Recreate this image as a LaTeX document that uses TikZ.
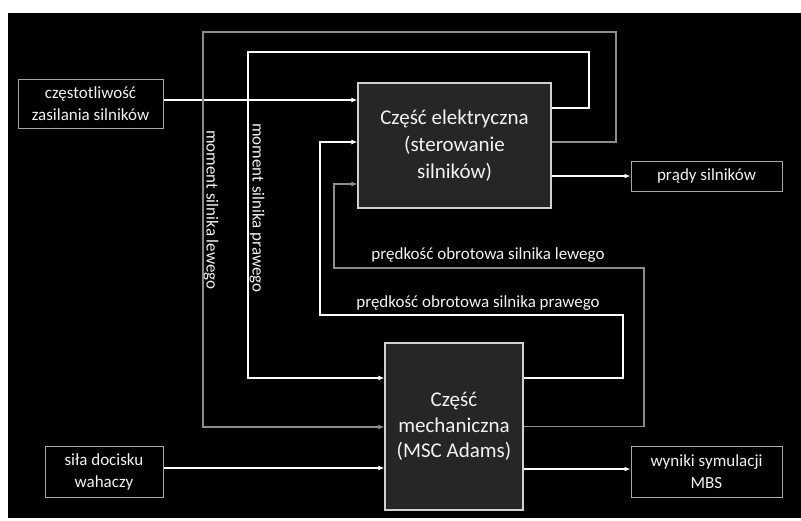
\documentclass[tikz,border=0pt]{standalone}
\usepackage{fontspec}
\setmainfont{Carlito}
\usetikzlibrary{arrows.meta, positioning}
\definecolor{boxfill}{HTML}{262626}
\definecolor{boxline}{HTML}{D0D0D0}
\definecolor{portline}{HTML}{A6A6A6}
\definecolor{greyline}{HTML}{8C8C8C}
\definecolor{txt}{HTML}{F2F2F2}

\begin{document}
\begin{tikzpicture}[
    x=1pt, y=-1pt,
    block/.style={draw=boxline, line width=1.2pt, rectangle, fill=boxfill, align=center, text=txt, inner sep=0pt},
    port/.style={draw=portline, line width=1pt, rectangle, fill=black, align=center, text=txt, inner sep=0pt, font=\fontsize{17}{22}\selectfont},
    wline/.style={-{Latex[length=6pt,width=5pt]}, white, line width=1.5pt},
    gline/.style={-{Latex[length=6pt,width=5pt]}, greyline, line width=1.5pt},
    lbl/.style={text=txt, inner sep=0pt, font=\fontsize{17}{20}\selectfont}
]
% Background
\fill[white] (0,0) rectangle (801,520);
\fill[black] (8,13) rectangle (801,518);

% Nodes
\node[block, minimum width=193pt, minimum height=125pt, font=\fontsize{21}{27}\selectfont] (elec) at (454.5,145.5) {Część elektryczna\\(sterowanie\\silników)};
\node[block, minimum width=138pt, minimum height=167pt, font=\fontsize{21}{25.5}\selectfont] (mech) at (454,426.5) {Część\\mechaniczna\\(MSC Adams)};
\node[port, minimum width=145pt, minimum height=49pt] (freq) at (90.5,103.5) {częstotliwość\\zasilania silników};
\node[port, minimum width=118pt, minimum height=51pt] (sila) at (104,471.5) {siła docisku\\wahaczy};
\node[port, minimum width=151pt, minimum height=30pt] (prady) at (706.5,176) {prądy silników};
\node[port, minimum width=151pt, minimum height=51pt] (wyniki) at (706.5,471.5) {wyniki symulacji\\MBS};

% Labels
\node[lbl, rotate=-90] (mlewy) at (211,210) {moment silnika lewego};
\node[lbl, rotate=-90] (mprawy) at (257,208) {moment silnika prawego};
\node[lbl] (plewy) at (488,255) {prędkość obrotowa silnika lewego};
\node[lbl] (pprawy) at (478,303) {prędkość obrotowa silnika prawego};

% Arrows
\draw[wline] ([yshift=3.5pt]freq.east) -- ([yshift=3.5pt]freq.east -| elec.west);
\draw[wline] (elec.east |- prady) -- (prady.west);
\draw[wline] ([yshift=3.5pt]sila.east) -- ([yshift=3.5pt]sila.east -| mech.west);
\draw[wline] ([yshift=2.5pt]wyniki.west -| mech.east) -- ([yshift=2.5pt]wyniki.west);

% Feedback loops
\draw[wline] ([yshift=37.5pt]elec.east) -| (589,52) -| (248,378) -- (mech.west |- 248,378);
\draw[gline] ([yshift=3.5pt]elec.east) -| (616,32) -| (203,427) -- (mech.west |- 203,427);
\draw[wline] ([yshift=48.5pt]mech.east) -| (623,315) -| (320,142) -- (elec.west |- 320,142);
\draw[gline] (mech.east) -| (644,268) -| (334,184) -- (elec.west |- 334,184);
\end{tikzpicture}
\end{document}
